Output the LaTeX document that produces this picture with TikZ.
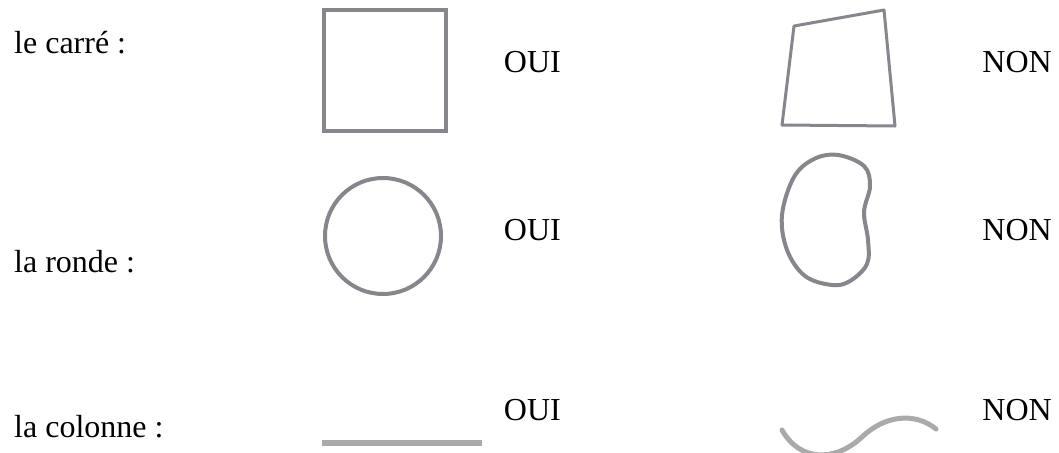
\documentclass[tikz,border=0pt]{standalone}
\usepackage{fontspec}
\setmainfont{Liberation Serif}
\definecolor{shapegray}{HTML}{86868C}
\definecolor{linegray}{HTML}{AAAAAA}
\begin{document}
\begin{tikzpicture}[x=1pt,y=-1pt,
  lbl/.style={font=\fontsize{32}{36}\selectfont, inner sep=0pt, text=black},
  outl/.style={draw=shapegray, line width=4pt},
  thinoutl/.style={draw=shapegray, line width=3pt, line join=round},
  lightstroke/.style={draw=linegray, line width=5pt, line cap=round}]
\useasboundingbox (0,0) rectangle (1059,452);
% labels
\node[lbl, anchor=base west] (t1) at (14,54) {le carré :};
\node[lbl, anchor=base west] (t2) at (14,272) {la ronde :};
\node[lbl, anchor=base west] (t3) at (14,437) {la colonne :};
\node[lbl, anchor=base east] (o1) at (561,73) {OUI};
\node[lbl, anchor=base east] (o2) at (561,240) {OUI};
\node[lbl, anchor=base east] (o3) at (561,420) {OUI};
\node[lbl, anchor=base east] (n1) at (1052,72) {NON};
\node[lbl, anchor=base east] (n2) at (1052,240) {NON};
\node[lbl, anchor=base east] (n3) at (1052,420) {NON};
% row 1
\draw[outl] (324,10) rectangle (446,131);
\draw[thinoutl] (794,26) -- (884,10) -- (895,126) -- (782,125) -- cycle;
% row 2
\draw[outl] (383,236) circle (58);
\draw[outl] plot[smooth cycle, tension=0.6] coordinates {(838,155) (864,166) (870,186) (864,212) (868,240) (867,264) (850,281) (832,285) (805,276) (787,250) (782,215) (794,177) (814,159)};
% row 3
\fill[linegray] (322,440) rectangle (482,446);
\draw[lightstroke] (782,430) .. controls (800,462) and (835,462) .. (862,437) .. controls (885,415) and (915,412) .. (936,429);
\end{tikzpicture}
\end{document}
